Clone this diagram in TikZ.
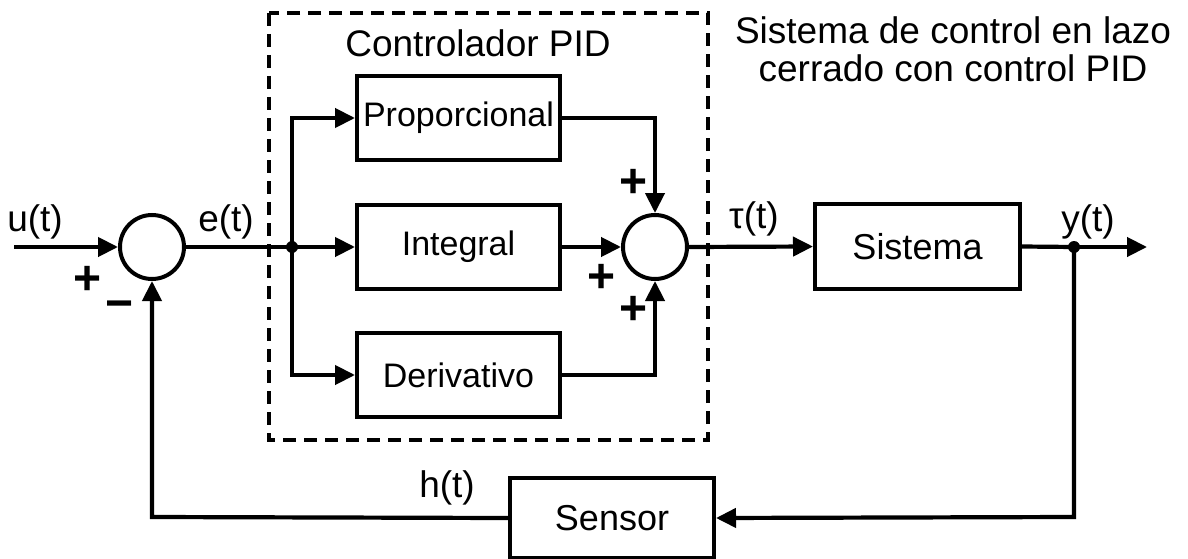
\documentclass[tikz,border=0pt]{standalone}
\usepackage{fontspec}
\setmainfont{Liberation Sans}
\usetikzlibrary{arrows.meta}
\begin{document}
\begin{tikzpicture}[x=1pt,y=-1pt,
  every node/.style={font=\fontsize{37}{40}\selectfont, inner sep=0pt},
  blk/.style={draw, line width=4pt, rectangle, font=\fontsize{36}{40}\selectfont},
  inblk/.style={draw, line width=4pt, rectangle, minimum width=203pt, minimum height=84pt, font=\fontsize{34}{38}\selectfont},
  sumc/.style={draw, line width=4pt, circle, minimum size=64pt},
  wire/.style={line width=4.2pt},
  arr/.style={wire, -{Triangle[length=20pt,width=19pt]}},
  dot/.style={circle, fill, minimum size=12pt},
  sign/.style={font=\fontsize{48}{50}\selectfont\bfseries}
]
\useasboundingbox (0,0) rectangle (1188,559);

% dashed controller box
\draw[line width=3.8pt, dash pattern=on 13pt off 8pt] (269,13) rectangle (708,440);
\node (pidlbl) at (478,43) {Controlador PID};
\node[align=center] (title) at (953,49) {Sistema de control en lazo\\[-2pt]cerrado con control PID};

% blocks
\node[sumc] (s1) at (152,247) {};
\node[dot] (br) at (292,247) {};
\node[inblk] (prop) at (458.5,118) {Proporcional};
\node[inblk] (integ) at (458.5,247) {Integral};
\node[inblk] (deriv) at (458.5,375) {Derivativo};
\node[sumc] (s2) at (655,247) {};
\node[blk, minimum width=205pt, minimum height=85pt] (sys) at (917.5,246.5) {Sistema};
\node[blk, minimum width=204pt, minimum height=80pt] (sens) at (612,518) {Sensor};
\node[dot] (od) at (1074,247) {};
\coordinate (in) at (14,247);
\coordinate (out) at (1147,247);
\coordinate (fbl) at (152,517);
\coordinate (fbr) at (1074,517);

% connectors
\draw[arr] (in) -- (s1.west);
\draw[wire] (s1.east) -- (br.center);
\draw[arr] (br.center) -- (integ.west);
\draw[arr] (br.center) |- (prop.west);
\draw[arr] (br.center) |- (deriv.west);
\draw[arr] (prop.east) -| (s2.north);
\draw[arr] (integ.east) -- (s2.west);
\draw[arr] (deriv.east) -| (s2.south);
\draw[arr] (s2.east) -- (sys.west);
\draw[wire] (sys.east) -- (od.center);
\draw[arr] (od.center) -- (out);
\draw[arr] (od.center) -- (fbr) -- (sens.east);
\draw[arr] (sens.west) -- (fbl) -- (s1.south);

% labels
\node (ut) at (35,222) {u(t)};
\node (et) at (226,222) {e(t)};
\node (taut) at (754,219) {τ(t)};
\node (yt) at (1088,222) {y(t)};
\node (ht) at (447,488) {h(t)};
\node[sign] (p1) at (88,280) {+};
\node[sign] (m1) at (120,310) {−};
\node[sign] (p2) at (634,183) {+};
\node[sign] (p3) at (602,278) {+};
\node[sign] (p4) at (634,310) {+};
\end{tikzpicture}
\end{document}
